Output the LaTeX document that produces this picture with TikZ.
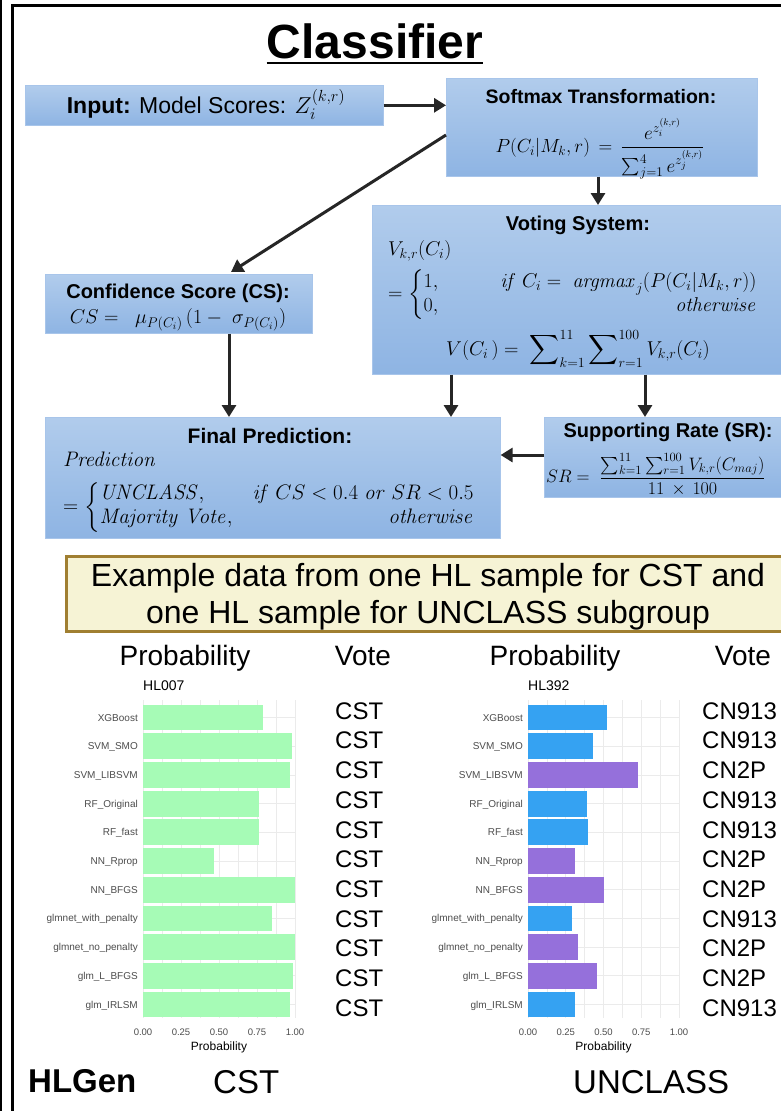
\RequirePackage{fix-cm}
\documentclass[tikz,border=0pt]{standalone}
\usepackage{amsmath}
\usepackage[no-math]{fontspec}
\setmainfont{Liberation Sans}
\usetikzlibrary{arrows.meta,calc}
\definecolor{boxtop}{HTML}{B1CCEC}
\definecolor{boxbot}{HTML}{8EB4E3}
\definecolor{boxedge}{HTML}{A8C5EA}
\definecolor{arrowc}{HTML}{262626}
\definecolor{exfill}{HTML}{F6F3D5}
\definecolor{exedge}{HTML}{A07F31}
\definecolor{barg}{HTML}{A6FBB6}
\definecolor{barb}{HTML}{35A2F2}
\definecolor{barp}{HTML}{9570DB}
\definecolor{gridc}{HTML}{EBEBEB}
\definecolor{axtxt}{HTML}{4D4D4D}
\newcommand\fsz[2]{\fontsize{#1}{#2}\selectfont}
\newcommand\probchart[3]{%
  \foreach \i in {0,...,8} {
    \ifodd\i
      \draw[gridc, line width=0.4pt] ({#1+#2*\i/8},700) -- ({#1+#2*\i/8},1018);
    \else
      \draw[gridc, line width=0.8pt] ({#1+#2*\i/8},700) -- ({#1+#2*\i/8},1018);
    \fi
  }
  \foreach \k in {0,...,10} {
    \draw[gridc, line width=0.8pt] (#1,717.5+28.7*\k) -- (#1+#2,717.5+28.7*\k);
  }
  \foreach \v/\c [count=\k from 0] in {#3} {
    \fill[\c] (#1,717.5+28.7*\k-12.9) rectangle (#1+#2*\v,717.5+28.7*\k+12.9);
  }
  \foreach \n [count=\k from 0] in {XGBoost,SVM\_SMO,SVM\_LIBSVM,RF\_Original,RF\_fast,NN\_Rprop,NN\_BFGS,glmnet\_with\_penalty,glmnet\_no\_penalty,glm\_L\_BFGS,glm\_IRLSM} {
    \node[modelname] (mn#1-\k) at (#1-5,717.5+28.7*\k+3.5) {\n};
  }
  \foreach \t/\l [count=\k from 0] in {0/0.00,0.25/0.25,0.5/0.50,0.75/0.75,1/1.00} {
    \node[ticklab] (tk#1-\k) at (#1+#2*\t,1032) {\l};
  }
  \node[axtitle] (ax#1) at (#1+#2/2,1047) {Probability};
}
\begin{document}
\begin{tikzpicture}[x=1pt,y=-1pt,
  box/.style={draw=boxedge, line width=0.6pt, top color=boxtop, bottom color=boxbot, inner sep=0pt, anchor=north west},
  arr/.style={draw=arrowc, line width=3pt, -{Triangle[width=14pt,length=12pt]}},
  boxtitle/.style={anchor=base, inner sep=0pt, font=\fsz{20}{24}\bfseries},
  mth/.style={inner sep=0pt, font=\fsz{20}{24}},
  modelname/.style={anchor=base east, inner sep=0pt, text=axtxt, font=\fsz{10}{12}},
  ticklab/.style={anchor=center, inner sep=0pt, text=axtxt, font=\fsz{9.5}{11}},
  axtitle/.style={anchor=center, inner sep=0pt, font=\fsz{12}{14}},
  hdr/.style={anchor=base, inner sep=0pt, font=\fsz{28}{32}},
  votel/.style={anchor=west, inner sep=0pt, font=\fsz{24}{28}},
  big/.style={anchor=base west, inner sep=0pt, font=\fsz{33}{38}}]
\useasboundingbox (0,0) rectangle (781,1111);
\fill[white] (0,0) rectangle (781,1111);
% frame
\draw[line width=2pt] (1,0) -- (1,1111);
\draw[line width=3pt] (12.5,1111) -- (12.5,5.5) -- (790,5.5);
% title
\node[anchor=base, inner sep=0pt, font=\fsz{48}{56}\bfseries] (title) at (375,58) {Classifier};
\draw[line width=2.5pt] ([yshift=-5pt]title.base west) -- ([yshift=-5pt]title.base east);
% boxes
\node[box, minimum width=358pt, minimum height=40pt] (input) at (25,85) {};
\node[box, minimum width=311pt, minimum height=98pt] (softmax) at (446,78) {};
\node[box, minimum width=420pt, minimum height=169pt] (voting) at (372,205) {};
\node[box, minimum width=267pt, minimum height=59pt] (conf) at (45,274) {};
\node[box, minimum width=455pt, minimum height=121pt] (final) at (45,417) {};
\node[box, minimum width=250pt, minimum height=80pt] (sr) at (544,417) {};
\node[draw=exedge, line width=3pt, fill=exfill, inner sep=0pt, anchor=north west, minimum width=730pt, minimum height=75pt] (example) at (65,555) {};
% input
\node[anchor=base, inner sep=0pt, font=\fsz{23}{27}] (intext) at (206,113) {\textbf{Input:} Model Scores: $Z_i^{(k,r)}$};
% softmax
\node[boxtitle, font=\fsz{19.5}{23}\bfseries] (smt) at (601,103) {Softmax Transformation:};
\node[mth, font=\fsz{19}{23}] (smf) at (600,149) {$P(C_i|M_k,r)\,=\,\dfrac{e^{z_i^{(k,r)}}}{\sum_{j=1}^{4}e^{z_j^{(k,r)}}}$};
% voting
\node[boxtitle] (vtt) at (578,230) {Voting System:};
\node[mth, anchor=north west] (vt2) at (388,239) {$\def\arraystretch{0.95}\begin{array}{@{}l@{}}V_{k,r}(C_i)\\[8pt] =\biggl\{\begin{array}{@{}l@{\hspace{62pt}}r@{}}1, & \mathit{if}\ C_i=\ \mathit{argmax}_j(P(C_i|M_k,r))\\ 0, & \mathit{otherwise}\end{array}\end{array}$};
\node[mth] (vt3) at (578,349) {$V(C_i\,)=\ \displaystyle\sum\nolimits_{k=1}^{11}\sum\nolimits_{r=1}^{100}V_{k,r}(C_i)$};
% confidence
\node[boxtitle] (cst) at (178,298) {Confidence Score (CS):};
\node[mth] (csf) at (178,320) {$CS=\ \ \mu_{P(C_i)}\,(1-\ \sigma_{P(C_i)})$};
% final
\node[boxtitle, font=\fsz{21}{25}\bfseries] (fpt) at (270,443) {Final Prediction:};
\node[mth, anchor=north west, font=\fsz{21}{25}] (fp2) at (63,450) {$\def\arraystretch{0.95}\begin{array}{@{}l@{}}\mathit{Prediction}\\[8pt] =\biggl\{\begin{array}{@{}l@{\hspace{20pt}}r@{}}\mathit{UNCLASS}, & \mathit{if}\ CS<0.4\ \mathit{or}\ SR<0.5\\ \mathit{Majority}\ \mathit{Vote}, & \mathit{otherwise}\end{array}\end{array}$};
% supporting rate
\node[boxtitle] (srt) at (668,437) {Supporting Rate (SR):};
\node[mth, anchor=west, font=\fsz{18}{22}] (srf) at (546,475) {$SR=\ \dfrac{\sum_{k=1}^{11}\sum_{r=1}^{100}V_{k,r}(C_{maj})}{11\,\times\,100}$};
% arrows
\coordinate (dA) at (446,135);
\coordinate (dB) at (231,272);
\coordinate (cx) at (229,0);
\coordinate (sx) at (598,0);
\coordinate (v1) at (451,0);
\coordinate (v2) at (645,0);
\coordinate (hy) at (0,455);
\draw[arr] (input.east) -- (input.east -| softmax.west);
\draw[arr] (softmax.south -| sx) -- (voting.north -| sx);
\draw[arr] (dA) -- (dB);
\draw[arr] (conf.south -| cx) -- (final.north -| cx);
\draw[arr] (voting.south -| v1) -- (final.north -| v1);
\draw[arr] (voting.south -| v2) -- (sr.north -| v2);
\draw[arr] (sr.west |- hy) -- (final.east |- hy);
% example text
\node[inner sep=0pt, align=center, font=\fsz{32}{37}] (extext) at (428,597) {Example data from one HL sample for CST and\\one HL sample for UNCLASS subgroup};
% headers
\node[hdr] (h1) at (185,665) {Probability};
\node[hdr] (h2) at (363,665) {Vote};
\node[hdr] (h3) at (555,665) {Probability};
\node[hdr] (h4) at (743,665) {Vote};
\node[anchor=base west, inner sep=0pt, font=\fsz{14}{16}] (s1) at (143,690) {HL007};
\node[anchor=base west, inner sep=0pt, font=\fsz{14}{16}] (s2) at (528,690) {HL392};
% charts
\probchart{143}{152}{0.79/barg,0.98/barg,0.97/barg,0.76/barg,0.76/barg,0.47/barg,1.0/barg,0.85/barg,1.0/barg,0.99/barg,0.97/barg}
\probchart{528}{151}{0.52/barb,0.43/barb,0.73/barp,0.39/barb,0.40/barb,0.31/barp,0.50/barp,0.29/barb,0.33/barp,0.46/barp,0.31/barb}
% votes
\foreach \w [count=\k from 0] in {CST,CST,CST,CST,CST,CST,CST,CST,CST,CST,CST} {
  \node[votel] (va\k) at (335,711+29.7*\k) {\w};
}
\foreach \w [count=\k from 0] in {CN913,CN913,CN2P,CN913,CN913,CN2P,CN2P,CN913,CN2P,CN2P,CN913} {
  \node[votel] (vb\k) at (702,711+29.7*\k) {\w};
}
% bottom labels
\node[big, font=\fsz{33}{38}\bfseries] (hlgen) at (28,1092) {HLGen};
\node[big] (res1) at (213,1093) {CST};
\node[big] (res2) at (573,1093) {UNCLASS};
\end{tikzpicture}
\end{document}
